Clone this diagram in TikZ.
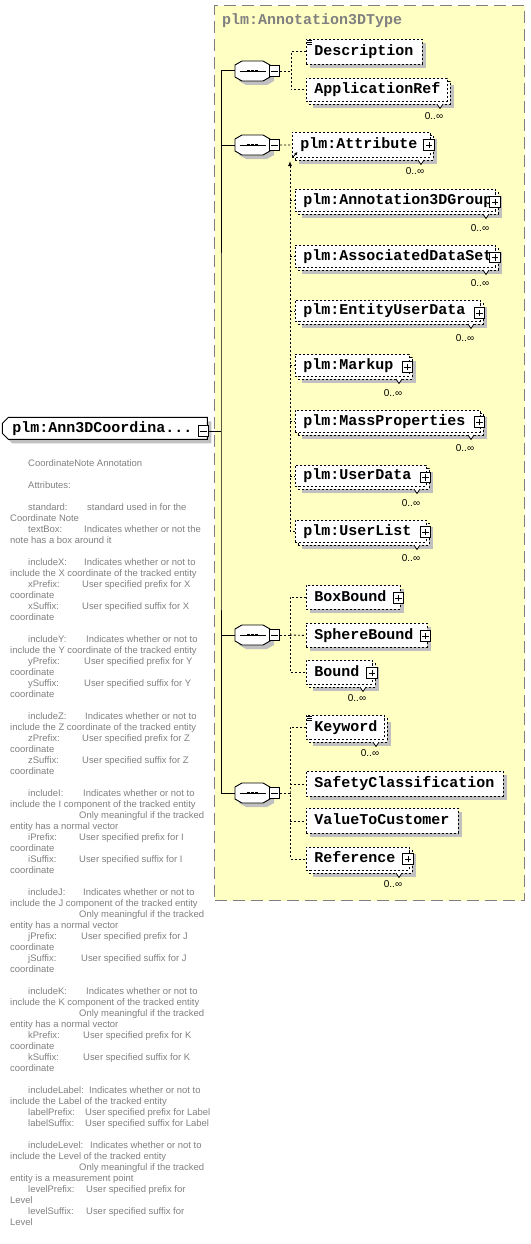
\documentclass[tikz,border=0pt]{standalone}
\usepackage{fontspec}
\newfontfamily\elfont{Liberation Mono}
\newfontfamily\annfont{Liberation Sans}
\usetikzlibrary{shapes.misc,shadows,arrows.meta}
\definecolor{ylw}{HTML}{FFFFC4}
\definecolor{shd}{HTML}{C0C0C0}
\definecolor{bdr}{HTML}{808080}
\definecolor{anng}{HTML}{808080}
\tikzset{
  ann/.style={font=\annfont\fontsize{9.45}{10}\selectfont, text=anng, anchor=west, inner sep=0pt, text height=7pt, text depth=2pt},
  occlabel/.style={font=\annfont\fontsize{10}{11}\selectfont, text=black, inner sep=0pt},
  eltext/.style={font=\elfont\bfseries\fontsize{15}{16}\selectfont},
  single/.style={general shadow={fill=shd, draw=none, shadow xshift=4pt, shadow yshift=-4pt}},
  multi/.style={general shadow={fill=shd, draw=none, shadow xshift=7pt, shadow yshift=-7pt},
                general shadow={fill=white, draw=black, dash pattern=on 2pt off 2pt, shadow xshift=3pt, shadow yshift=-3pt}},
  opt/.style={draw=black, fill=white, dash pattern=on 2pt off 2pt, line width=0.9pt},
  conn/.style={line width=0.9pt, dash pattern=on 2pt off 2pt},
  solidline/.style={line width=1pt},
  pm/.style={shape=rectangle, draw=black, fill=white, solid, line width=0.8pt, minimum size=10.5pt, inner sep=0pt},
  plus/.style={pm, path picture={\draw[line width=0.8pt]
     ([xshift=2pt]path picture bounding box.west) -- ([xshift=-2pt]path picture bounding box.east)
     ([yshift=2pt]path picture bounding box.south) -- ([yshift=-2pt]path picture bounding box.north);}},
  minus/.style={pm, path picture={\draw[line width=0.8pt]
     ([xshift=2pt]path picture bounding box.west) -- ([xshift=-2pt]path picture bounding box.east);}},
  seqanchor/.style={shape=rectangle, draw=none, minimum width=35pt, minimum height=20pt, inner sep=0pt},
  mainel/.style={chamfered rectangle, chamfered rectangle corners={north west,south west},
     chamfered rectangle xsep=3pt, chamfered rectangle ysep=3pt,
     draw=black, fill=white, line width=1pt, eltext,
     general shadow={fill=shd, draw=none, shadow xshift=4pt, shadow yshift=-4pt}},
}
\newcommand\elem[7]{%
  \pgfmathsetmacro\elw{#5-#3}%
  \pgfmathsetmacro\elh{#6-#4}%
  \pgfmathsetmacro\eltw{#5-#3-16}%
  \node[opt,#2,eltext,anchor=north west,minimum width=\elw pt,minimum height=\elh pt,
        inner xsep=8pt,inner ysep=0pt,text height=9pt,text depth=1pt] (#1) at (#3,#4) {\makebox[\eltw pt][l]{#7}};}
\newcommand\occ[4]{% name, label x, label y, back-box bottom
  \pgfmathsetmacro\va{#2+3}\pgfmathsetmacro\vb{#2+6}\pgfmathsetmacro\vc{#2+9}\pgfmathsetmacro\vd{#4+4.5}%
  \filldraw[fill=white, draw=black, line width=0.8pt] (\va,#4) -- (\vb,\vd) -- (\vc,#4);
  \node[occlabel] (#1) at (#2,#3) {0..∞};}
\newcommand\octpath[3]{% x shift, y centre, extra
  (235+#1,#2-6+#3) -- (242+#1,#2-10+#3) -- (263+#1,#2-10+#3) -- (270+#1,#2-6+#3) --
  (270+#1,#2+6+#3) -- (263+#1,#2+10+#3) -- (242+#1,#2+10+#3) -- (235+#1,#2+6+#3) -- cycle}
\newcommand\seqsym[3]{% seq name, minus name, y
  \fill[shd] \octpath{4}{#3}{4};
  \filldraw[fill=white, draw=black, line width=0.9pt] \octpath{0}{#3}{0};
  \draw[line width=0.9pt] (239.5,#3) -- (265.5,#3);
  \foreach \dx in {-4,0,4}{\fill (252.5+\dx-1.4,#3-1.4) rectangle (252.5+\dx+1.4,#3+1.4);}
  \node[seqanchor] (#1) at (252.5,#3) {};
  \node[minus] (#2) at (274.5,#3) {};}
\newcommand\aline[5]{\node[ann] (#1) at (28,#2) {#3}; \node[ann] (#1v) at (#4,#2) {#5};}
\newcommand\atext[4]{\node[ann] (#1) at (#2,#3) {#4};}
\begin{document}
\begin{tikzpicture}[x=1pt,y=-1pt]
\useasboundingbox (0,0) rectangle (530,1244);
% group box
\node[draw=bdr, fill=ylw, line width=1.3pt, dash pattern=on 12pt off 6pt, minimum width=310pt, minimum height=895pt, anchor=north west, inner sep=0pt] (grp) at (214,5) {};
\node[eltext, text=bdr, anchor=west, inner sep=0pt] (title) at (222,21) {plm:Annotation3DType};

% root element
\node[mainel, anchor=north west, minimum width=205pt, minimum height=22pt, inner xsep=5pt, inner ysep=0pt, text height=9pt, text depth=1pt] (root) at (5,420) {\makebox[185pt][l]{plm:Ann3DCoordina...}};
\node[minus] (mm) at (203.5,431) {};

% sequences
\seqsym{s1}{m1}{71}
\seqsym{s2}{m2}{145}
\seqsym{s3}{m3}{635}
\seqsym{s4}{m4}{793}

% trunk
\coordinate (j) at (221,431);
\draw[solidline] (mm.east) -- (j);
\draw[solidline] (s1.west) -| (j) |- (s4.west);
\draw[solidline] (s2.west) -- (s2.west -| j);
\draw[solidline] (s3.west) -- (s3.west -| j);

% elements
\elem{desc}{single}{306}{39}{422}{64}{Description}
\elem{appref}{multi}{306}{78}{447}{101}{ApplicationRef}
\elem{attr}{multi}{292}{132}{430}{157}{plm:Attribute}
\elem{agrp}{multi}{295}{189}{495}{211}{plm:Annotation3DGroup}
\elem{ads}{multi}{295}{245}{495}{267}{plm:AssociatedDataSet}
\elem{eud}{multi}{295}{300}{480}{321}{plm:EntityUserData}
\elem{mkp}{multi}{295}{354}{409}{376}{plm:Markup}
\elem{mass}{multi}{295}{410}{480}{432}{plm:MassProperties}
\elem{udat}{multi}{295}{465}{426}{486}{plm:UserData}
\elem{ulst}{multi}{295}{520}{426}{542}{plm:UserList}
\elem{boxb}{single}{306}{585}{400}{609}{BoxBound}
\elem{sphb}{single}{306}{623}{427}{647}{SphereBound}
\elem{bnd}{multi}{306}{660}{372}{684}{Bound}
\elem{kw}{multi}{306}{715}{384}{739}{Keyword}
\elem{safe}{single}{306}{771}{503}{796}{SafetyClassification}
\elem{v2c}{single}{306}{808}{458}{833}{ValueToCustomer}
\elem{ref}{multi}{306}{847}{409}{870}{Reference}

% expand boxes
\node[plus] (pattr) at (429,145) {};
\node[plus] (pagrp) at (495,202) {};
\node[plus] (pads) at (495,257.5) {};
\node[plus] (peud) at (479.5,313) {};
\node[plus] (pmkp) at (407.5,367) {};
\node[plus] (pmass) at (479.5,422) {};
\node[plus] (pudat) at (425.5,477.5) {};
\node[plus] (pulst) at (425.5,532) {};
\node[plus] (pboxb) at (398.5,598) {};
\node[plus] (psphb) at (425.5,636) {};
\node[plus] (pbnd) at (372,673) {};
\node[plus] (pref) at (408,859) {};

% mixed-content marks
\draw[line width=0.5pt] (307,40.5) -- (312,40.5) (307,42.2) -- (312,42.2) (307,43.9) -- (312,43.9);
\draw[line width=0.5pt] (307,716.5) -- (312,716.5) (307,718.2) -- (312,718.2) (307,719.9) -- (312,719.9);

% occurrence marks
\occ{o1}{434}{116}{104}
\occ{o2}{415}{171}{160}
\occ{o3}{480}{228}{214}
\occ{o4}{480}{283}{270}
\occ{o5}{465}{338}{324}
\occ{o6}{393}{393}{379}
\occ{o7}{465}{448}{435}
\occ{o8}{411}{503}{489}
\occ{o9}{411}{558}{545}
\occ{o10}{357}{698}{687}
\occ{o11}{370}{753}{742}
\occ{o12}{393}{884}{873}

% sequence 1
\coordinate (v1) at (291,71);
\draw[conn] (m1.east) -- (v1);
\draw[conn] (desc.west) -| (v1) |- (appref.west);
% sequence 2
\draw[conn] (m2.east) -- (attr.west);
\coordinate (sg) at (290,161);
\draw[conn, -{Latex[length=5pt,width=4pt]}] (ulst.west) -| (sg);
\foreach \n in {agrp,ads,eud,mkp,mass,udat}{\draw[conn] (\n.west -| sg) -- (\n.west);}
\draw[line width=0.8pt, -{Latex[length=3pt,width=3pt]}] (293,157) -- (297.5,152);
% sequence 3
\coordinate (v3) at (290,635);
\draw[conn] (m3.east) -- (v3);
\draw[conn] (boxb.west) -| (v3) |- (bnd.west);
\draw[conn] (v3) -- (sphb.west);
% sequence 4
\coordinate (v4) at (290,793);
\draw[conn] (m4.east) -- (v4);
\draw[conn] (kw.west) -| (v4) |- (ref.west);
\draw[conn] (safe.west -| v4) -- (safe.west);
\draw[conn] (v2c.west -| v4) -- (v2c.west);

% annotation
\atext{a01}{28}{464}{CoordinateNote Annotation}
\atext{a02}{28}{486}{Attributes:}
\aline{a03}{508}{standard:}{87}{standard used in for the}
\atext{a04}{10}{519}{Coordinate Note}
\aline{a05}{530}{textBox:}{84}{Indicates whether or not the}
\atext{a06}{10}{541}{note has a box around it}
\aline{a07}{563}{includeX:}{84}{Indicates whether or not to}
\atext{a08}{10}{574}{include the X coordinate of the tracked entity}
\aline{a09}{585}{xPrefix:}{82}{User specified prefix for X}
\atext{a10}{10}{596}{coordinate}
\aline{a11}{607}{xSuffix:}{82}{User specified suffix for X}
\atext{a12}{10}{618}{coordinate}
\aline{a13}{640}{includeY:}{86}{Indicates whether or not to}
\atext{a14}{10}{651}{include the Y coordinate of the tracked entity}
\aline{a15}{662}{yPrefix:}{84}{User specified prefix for Y}
\atext{a16}{10}{673}{coordinate}
\aline{a17}{684}{ySuffix:}{84}{User specified suffix for Y}
\atext{a18}{10}{695}{coordinate}
\aline{a19}{717}{includeZ:}{85}{Indicates whether or not to}
\atext{a20}{10}{728}{include the Z coordinate of the tracked entity}
\aline{a21}{739}{zPrefix:}{82}{User specified prefix for Z}
\atext{a22}{10}{750}{coordinate}
\aline{a23}{761}{zSuffix:}{82}{User specified suffix for Z}
\atext{a24}{10}{772}{coordinate}
\aline{a25}{794}{includeI:}{83}{Indicates whether or not to}
\atext{a26}{10}{805}{include the I component of the tracked entity}
\atext{a27}{79}{816}{Only meaningful if the tracked}
\atext{a28}{10}{827}{entity has a normal vector}
\aline{a29}{838}{iPrefix:}{79}{User specified prefix for I}
\atext{a30}{10}{849}{coordinate}
\aline{a31}{860}{iSuffix:}{79}{User specified suffix for I}
\atext{a32}{10}{871}{coordinate}
\aline{a33}{893}{includeJ:}{83}{Indicates whether or not to}
\atext{a34}{10}{904}{include the J component of the tracked entity}
\atext{a35}{79}{915}{Only meaningful if the tracked}
\atext{a36}{10}{926}{entity has a normal vector}
\aline{a37}{937}{jPrefix:}{81}{User specified prefix for J}
\atext{a38}{10}{948}{coordinate}
\aline{a39}{959}{jSuffix:}{81}{User specified suffix for J}
\atext{a40}{10}{970}{coordinate}
\aline{a41}{992}{includeK:}{86}{Indicates whether or not to}
\atext{a42}{10}{1003}{include the K component of the tracked entity}
\atext{a43}{79}{1014}{Only meaningful if the tracked}
\atext{a44}{10}{1025}{entity has a normal vector}
\aline{a45}{1036}{kPrefix:}{83}{User specified prefix for K}
\atext{a46}{10}{1047}{coordinate}
\aline{a47}{1058}{kSuffix:}{83}{User specified suffix for K}
\atext{a48}{10}{1069}{coordinate}
\aline{a49}{1091}{includeLabel:}{89}{Indicates whether or not to}
\atext{a50}{10}{1102}{include the Label of the tracked entity}
\aline{a51}{1113}{labelPrefix:}{85}{User specified prefix for Label}
\aline{a52}{1124}{labelSuffix:}{85}{User specified suffix for Label}
\aline{a53}{1146}{includeLevel:}{90}{Indicates whether or not to}
\atext{a54}{10}{1157}{include the Level of the tracked entity}
\atext{a55}{79}{1168}{Only meaningful if the tracked}
\atext{a56}{10}{1179}{entity is a measurement point}
\aline{a57}{1190}{levelPrefix:}{86}{User specified prefix for}
\atext{a58}{10}{1201}{Level}
\aline{a59}{1212}{levelSuffix:}{86}{User specified suffix for}
\atext{a60}{10}{1223}{Level}
\end{tikzpicture}
\end{document}
